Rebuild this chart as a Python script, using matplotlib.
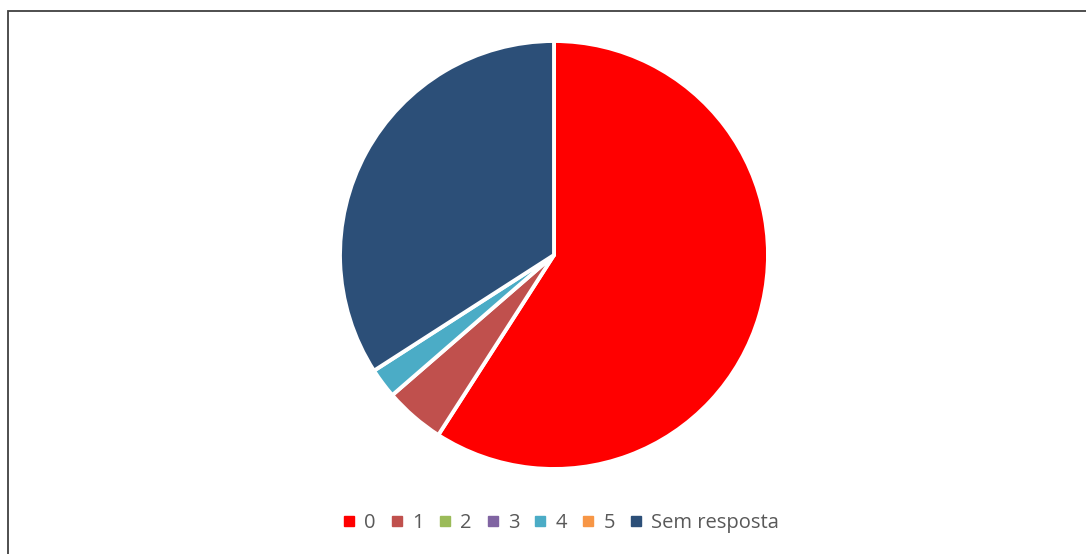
import matplotlib
matplotlib.use("Agg")
import matplotlib.pyplot as plt
from matplotlib.patches import Rectangle
from matplotlib.lines import Line2D

labels = ["0", "1", "2", "3", "4", "5", "Sem resposta"]
values = [26, 2, 0, 0, 1, 0, 15]
colors = ["#FF0000", "#C0504D", "#9BBB59", "#8064A2", "#4BACC6", "#F79646", "#2C4F78"]

W, H = 1086, 554
fig = plt.figure(figsize=(W / 100, H / 100), dpi=100)
fig.patch.set_facecolor("white")

# chart frame (left and top edges visible)
fig.add_artist(Rectangle((8 / W, -0.05), 1.2, 1 - 11 / H + 0.05, transform=fig.transFigure,
                         fill=False, edgecolor="#404040", linewidth=1.3))

cx, cy, r = 554, 255, 214
ax = fig.add_axes([(cx - r) / W, (H - cy - r) / H, 2 * r / W, 2 * r / H])
nz = [(v, c) for v, c in zip(values, colors) if v > 0]
ax.pie([v for v, _ in nz], colors=[c for _, c in nz], startangle=90, counterclock=False,
       radius=1, wedgeprops=dict(edgecolor="white", linewidth=2.8))
ax.set_xlim(-1, 1)
ax.set_ylim(-1, 1)
ax.set_aspect("equal")
ax.axis("off")

handles = [Line2D([], [], marker="s", linestyle="none", markersize=6.8,
                  markerfacecolor=c, markeredgecolor=c) for c in colors]
leg = fig.legend(handles, labels, loc="center", bbox_to_anchor=(561 / W, 1 - 523 / H),
                 ncol=7, frameon=False, handlelength=0.6, handletextpad=0.45,
                 columnspacing=0.75, prop=dict(family="Open Sans", size=14.5))
for t in leg.get_texts():
    t.set_color("#595959")

fig.savefig("out.png", dpi=100, facecolor="white")
